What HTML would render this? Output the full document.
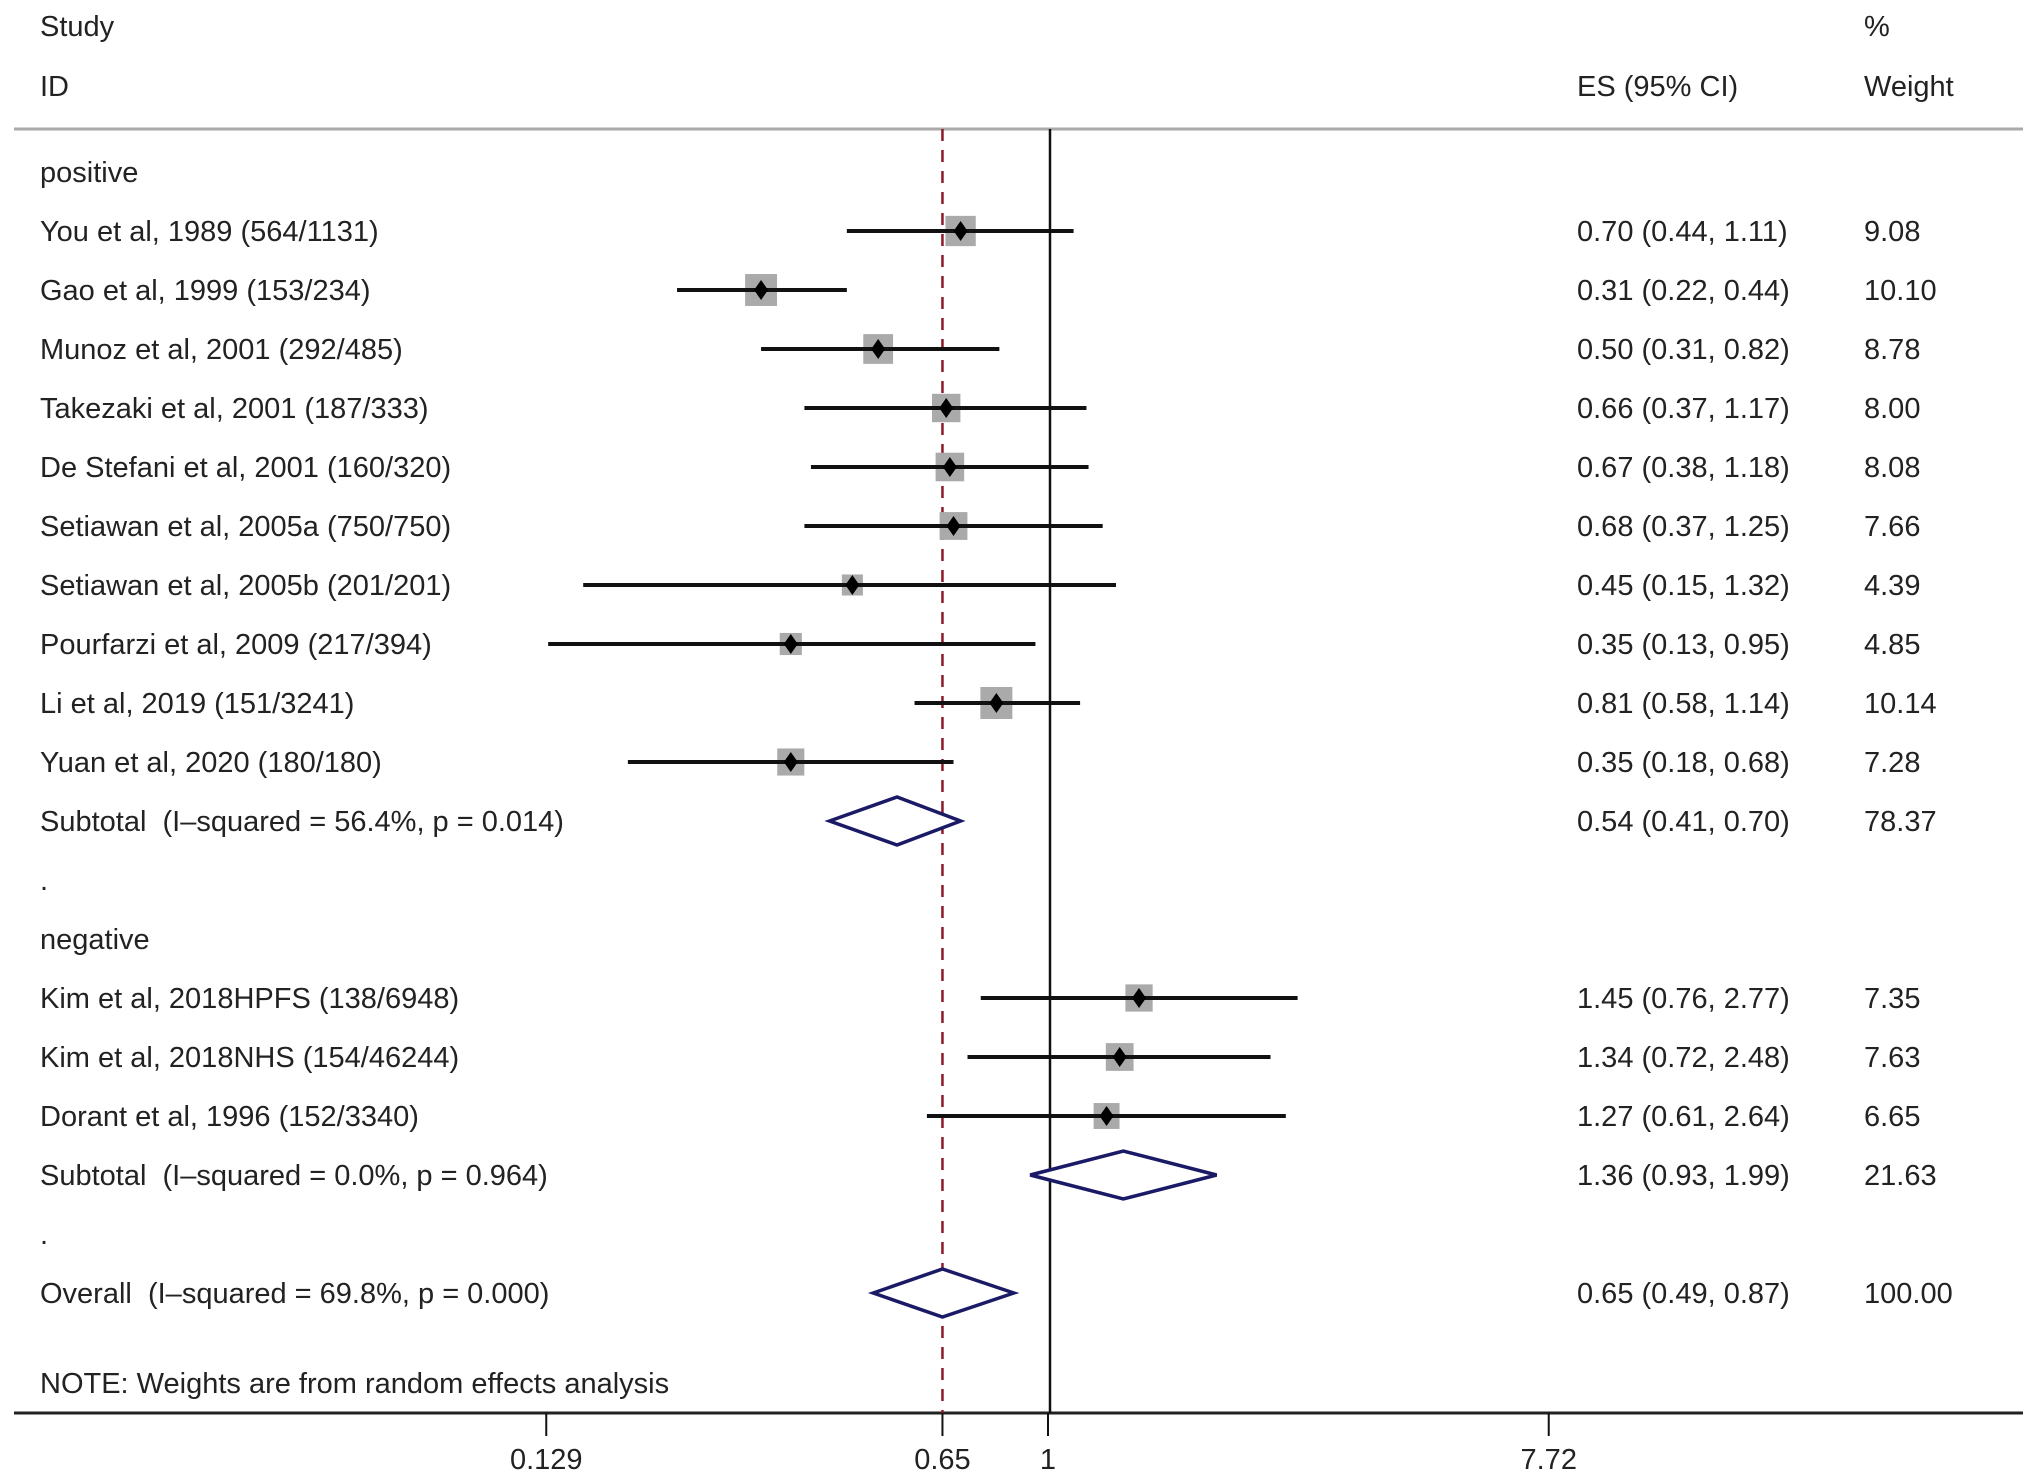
<!DOCTYPE html>
<html><head><meta charset="utf-8"><style>
html,body{margin:0;padding:0;background:#fff}
svg{display:block}
text{font-family:"Liberation Sans",sans-serif;font-size:29px;fill:#222;white-space:pre}
</style></head><body>
<svg id="chart" width="2032" height="1481" viewBox="0 0 2032 1481" xmlns="http://www.w3.org/2000/svg">
<text x="40" y="36">Study</text>
<text x="40" y="96">ID</text>
<text x="1577" y="96">ES (95% CI)</text>
<text x="1864" y="36">%</text>
<text x="1864" y="96">Weight</text>
<line x1="14" y1="129" x2="2023" y2="129" stroke="#aaa" stroke-width="3"/>
<line x1="14" y1="1413" x2="2023" y2="1413" stroke="#222" stroke-width="3"/>
<line x1="1050" y1="129" x2="1050" y2="1413" stroke="#111" stroke-width="2.5"/>
<g id="marks"></g>
<g id="texts"></g>
<text x="40" y="1393">NOTE: Weights are from random effects analysis</text>
</svg>
<script>
const labels=["You et al, 1989 (564/1131)","Gao et al, 1999 (153/234)","Munoz et al, 2001 (292/485)","Takezaki et al, 2001 (187/333)","De Stefani et al, 2001 (160/320)","Setiawan et al, 2005a (750/750)","Setiawan et al, 2005b (201/201)","Pourfarzi et al, 2009 (217/394)","Li et al, 2019 (151/3241)","Yuan et al, 2020 (180/180)","Subtotal  (I\u2013squared = 56.4%, p = 0.014)",".","negative","Kim et al, 2018HPFS (138/6948)","Kim et al, 2018NHS (154/46244)","Dorant et al, 1996 (152/3340)","Subtotal  (I\u2013squared = 0.0%, p = 0.964)",".","Overall  (I\u2013squared = 69.8%, p = 0.000)"];
const kinds=["s","s","s","s","s","s","s","s","s","s","d","","","s","s","s","d","","d"];
const es=[0.70,0.31,0.50,0.66,0.67,0.68,0.45,0.35,0.81,0.35,0.54,null,null,1.45,1.34,1.27,1.36,null,0.65];
const lo=[0.44,0.22,0.31,0.37,0.38,0.37,0.15,0.13,0.58,0.18,0.41,null,null,0.76,0.72,0.61,0.93,null,0.49];
const hi=[1.11,0.44,0.82,1.17,1.18,1.25,1.32,0.95,1.14,0.68,0.70,null,null,2.77,2.48,2.64,1.99,null,0.87];
const weights=[9.08,10.10,8.78,8.00,8.08,7.66,4.39,4.85,10.14,7.28,78.37,null,null,7.35,7.63,6.65,21.63,null,100.00];
const tickVals=[0.129,0.65,1,7.72];
const tickLabels=["0.129","0.65","1","7.72"];
const overallES=0.65;
const NS="http://www.w3.org/2000/svg";
const xs=v=>1048+245*Math.log(v);
const ys=i=>231+59.0*i;
const marks=document.getElementById('marks'),texts=document.getElementById('texts');
function mk(t,a,p){const e=document.createElementNS(NS,t);for(const k in a)e.setAttribute(k,a[k]);(p||marks).appendChild(e);return e;}
let ol=mk('line',{x1:xs(overallES),y1:129,x2:xs(overallES),y2:1413,stroke:'#8b1a2a','stroke-width':2.5,'stroke-dasharray':'12,9'});


let t0=mk('text',{x:40,y:ys(-1)+10},texts);t0.textContent='positive';


labels.forEach((lab,i)=>{
  const y=ys(i);
  const t=mk('text',{x:40,y:y+10},texts);t.textContent=lab;
  
  
  if(es[i]==null)return;
  const e=mk('text',{x:1577,y:y+10},texts);e.textContent=es[i].toFixed(2)+' ('+lo[i].toFixed(2)+', '+hi[i].toFixed(2)+')';
  
  
  const w=mk('text',{x:1864,y:y+10},texts);w.textContent=weights[i].toFixed(2);
  
  
  if(kinds[i]==='s'){
    const s=32*Math.sqrt(weights[i]/10.14);
    const b=mk('rect',{x:xs(es[i])-s/2,y:y-s/2,width:s,height:s,fill:'#aaa'});
    
    
    const l=mk('line',{x1:xs(lo[i]),y1:y,x2:xs(hi[i]),y2:y,stroke:'#111','stroke-width':4});
    
    
    const cx=xs(es[i]);
    const d=mk('polygon',{points:`${cx-7},${y} ${cx},${y-10} ${cx+7},${y} ${cx},${y+10}`,fill:'#000'});
    
    
  } else {
    const cx=xs(es[i]);
    const d=mk('polygon',{points:`${xs(lo[i])},${y} ${cx},${y-24} ${xs(hi[i])},${y} ${cx},${y+24}`,fill:'#fff',stroke:'#1a1a66','stroke-width':3.5});
    
    
  }
});
tickVals.forEach((v,i)=>{
  const tk=mk('line',{x1:xs(v),y1:1413,x2:xs(v),y2:1436,stroke:'#111','stroke-width':2});
  
  
  const tl=mk('text',{x:xs(v),y:1469,'text-anchor':'middle'},texts);tl.textContent=tickLabels[i];
  
  
});
</script>
</body></html>
